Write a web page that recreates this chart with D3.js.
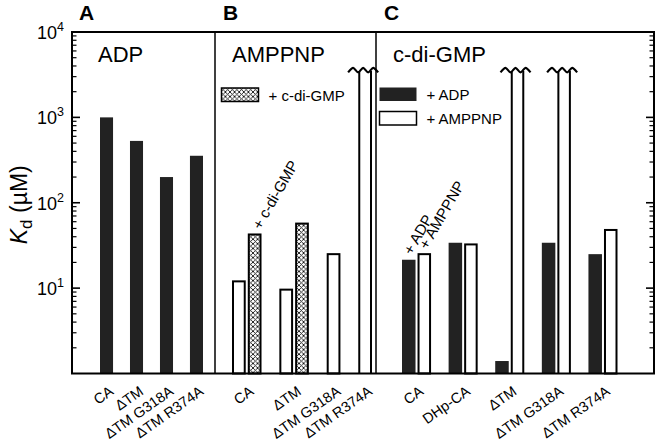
<!DOCTYPE html>
<html>
<head>
<meta charset="utf-8">
<script src="https://cdn.jsdelivr.net/npm/d3@7"></script>
<style>
  html, body { margin: 0; padding: 0; background: #fff; }
  svg { display: block; font-family: "Liberation Sans", Arial, Helvetica, sans-serif; }
</style>
</head>
<body>
<svg id="chart" width="660" height="442"></svg>
<script>
// ---------------- DATA ----------------
const panelLetters = ["A", "B", "C"];
const panelTitles = ["ADP", "AMPPNP", "c-di-GMP"];

// Panel A: ADP binding
const catsA = ["CA", "ΔTM", "ΔTM G318A", "ΔTM R374A"];
const adpKdA = [1000, 530, 200, 355];

// Panel B: AMPPNP binding, without / with c-di-GMP (Infinity = off scale, null = not measured)
const catsB = ["CA", "ΔTM", "ΔTM G318A", "ΔTM R374A"];
const amppnpKdB = [12, 9.6, 25, Infinity];
const amppnpCdgKdB = [42.5, 57, null, null];

// Panel C: c-di-GMP binding, + ADP / + AMPPNP
const catsC = ["CA", "DHp-CA", "ΔTM", "ΔTM G318A", "ΔTM R374A"];
const cdgAdpKdC = [21.5, 34, 1.4, 34, 25];
const cdgAmppnpKdC = [25, 32.5, Infinity, Infinity, 48];

const yTickExps = [1, 2, 3, 4];
const breakValue = 3500; // where off-scale bars are cut

// ---------------- LAYOUT ----------------
const svg = d3.select("#chart");
const plot = { left: 72, right: 654, top: 32, bottom: 373.5 };
const dividers = [215, 376];

const y = d3.scaleLog().domain([1, 1e4]).range([plot.bottom, plot.top]);

// hatch pattern
const defs = svg.append("defs");
const pat = defs.append("pattern").attr("id", "hatch")
  .attr("patternUnits", "userSpaceOnUse").attr("width", 4.6).attr("height", 4.6);
pat.append("rect").attr("width", 4.6).attr("height", 4.6).attr("fill", "#fff");
pat.append("path").attr("d", "M0,0 L4.6,4.6 M4.6,0 L0,4.6 M-1,3.6 L1,5.6 M3.6,-1 L5.6,1")
  .attr("stroke", "#111").attr("stroke-width", 0.9);

const styles = {
  black: { fill: "#222", stroke: "none" },
  open: { fill: "#fff", stroke: "#000" },
  hatch: { fill: "url(#hatch)", stroke: "#000" }
};

function buildSlots(cats, seriesList) {
  const slots = [];
  cats.forEach((c, i) => {
    seriesList.forEach(s => {
      if (s.values[i] !== null) slots.push({ key: c + "|" + s.name, cat: c, series: s, value: s.values[i] });
    });
    if (i < cats.length - 1) slots.push({ key: "gap" + i, gap: true });
  });
  return slots;
}

const panels = [
  { cats: catsA, range: [100, 203], series: [{ name: "adp", values: adpKdA, style: "black" }] },
  { cats: catsB, range: [232, 372], series: [
      { name: "amppnp", values: amppnpKdB, style: "open" },
      { name: "amppnp+cdg", values: amppnpCdgKdB, style: "hatch" }] },
  { cats: catsC, range: [402, 617.5], series: [
      { name: "adp", values: cdgAdpKdC, style: "black" },
      { name: "amppnp", values: cdgAmppnpKdC, style: "open" }] }
];

const g = svg.append("g");

panels.forEach((p, pi) => {
  const slots = buildSlots(p.cats, p.series);
  const x = d3.scaleBand().domain(slots.map(s => s.key)).range(p.range)
    .paddingInner(0.13).paddingOuter(0);
  p.x = x; p.slots = slots;
  const bw = x.bandwidth();
  const bars = slots.filter(s => !s.gap);

  bars.forEach(b => {
    const st = styles[b.series.style];
    const x0 = x(b.key);
    if (b.value === Infinity) {
      const yb = y(breakValue);
      const path = d3.path();
      path.moveTo(x0 + 1, y(1)); path.lineTo(x0 + 1, yb);
      path.moveTo(x0 + bw - 1, y(1)); path.lineTo(x0 + bw - 1, yb);
      g.append("path").attr("d", path.toString()).attr("fill", "none")
        .attr("stroke", "#000").attr("stroke-width", 2);
      const cx = x0 + bw / 2 - 2;
      const pts = d3.range(7).map(k => [cx - 15 + k * 5, yb + (k % 2 === 0 ? 1.5 : -3)]);
      g.append("path").attr("d", d3.line().curve(d3.curveCardinal.tension(0.2))(pts))
        .attr("fill", "none").attr("stroke", "#000").attr("stroke-width", 2.2);
    } else if (st.stroke === "none") {
      g.append("rect").attr("x", x0).attr("y", y(b.value)).attr("width", bw)
        .attr("height", y(1) - y(b.value)).attr("fill", st.fill);
    } else {
      g.append("rect").attr("x", x0 + 1).attr("y", y(b.value)).attr("width", bw - 2)
        .attr("height", y(1) - y(b.value)).attr("fill", st.fill)
        .attr("stroke", st.stroke).attr("stroke-width", 2);
    }
  });

  // category labels
  p.cats.forEach(c => {
    const cb = bars.filter(b => b.cat === c);
    const cx = d3.mean(cb, b => x(b.key) + bw / 2);
    g.append("text").attr("text-anchor", "end")
      .attr("transform", `translate(${cx + 8},${plot.bottom + 20}) rotate(-35)`)
      .attr("font-size", 14.5).text(c);
  });

  // panel letter and title
  const left = pi === 0 ? plot.left : dividers[pi - 1];
  svg.append("text").attr("x", left + (pi === 0 ? 7 : 8)).attr("y", 20)
    .attr("font-size", 21).attr("font-weight", "bold").text(panelLetters[pi]);
  svg.append("text").attr("x", left + (pi === 0 ? 26 : 17)).attr("y", 62)
    .attr("font-size", 22).text(panelTitles[pi]);
});

// annotations above first group bars
const pB = panels[1], pC = panels[2];
function annot(p, key, label, dx) {
  const s = p.slots.find(d => d.key === key);
  const bx = p.x(key) + p.x.bandwidth() / 2;
  g.append("text").attr("transform", `translate(${bx + dx},${y(s.value) - 4}) rotate(-60)`)
    .attr("font-size", 15).text(label);
}
annot(pB, "CA|amppnp+cdg", "+ c-di-GMP", 6);
annot(pC, "CA|adp", "+ ADP", 3);
annot(pC, "CA|amppnp", "+ AMPPNP", 3);

// legends
function legendItem(x0, y0, style, label) {
  const st = styles[style];
  g.append("rect").attr("x", x0).attr("y", y0).attr("width", 37).attr("height", 13.5)
    .attr("fill", st.fill).attr("stroke", st.stroke === "none" ? st.fill : "#000")
    .attr("stroke-width", st.stroke === "none" ? 0 : 1.5);
  g.append("text").attr("x", x0 + 47).attr("y", y0 + 12.5).attr("font-size", 15).text(label);
}
legendItem(221.5, 88, "hatch", "+ c-di-GMP");
legendItem(379.5, 87.5, "black", "+ ADP");
legendItem(379.5, 111.5, "open", "+ AMPPNP");

// axes ticks
const ticks = y.ticks().filter(v => v > 1 && v < 1e4);
const axisG = svg.append("g").attr("stroke", "#000");
ticks.forEach(v => {
  const major = Math.abs(Math.log10(v) - Math.round(Math.log10(v))) < 1e-9;
  const len = major ? 8 : 4.5;
  axisG.append("line").attr("x1", plot.left).attr("x2", plot.left + len)
    .attr("y1", y(v)).attr("y2", y(v)).attr("stroke-width", major ? 1.6 : 1.2);
  axisG.append("line").attr("x1", plot.right).attr("x2", plot.right - len)
    .attr("y1", y(v)).attr("y2", y(v)).attr("stroke-width", major ? 1.6 : 1.2);
});

// tick labels
yTickExps.forEach(e => {
  const t = svg.append("text").attr("x", 64).attr("y", y(Math.pow(10, e)) + 7)
    .attr("text-anchor", "end").attr("font-size", 18);
  t.append("tspan").text("10");
  t.append("tspan").attr("font-size", 12.5).attr("dy", -8).text(String(e));
});

// frame and dividers
svg.append("rect").attr("x", plot.left).attr("y", plot.top)
  .attr("width", plot.right - plot.left).attr("height", plot.bottom - plot.top)
  .attr("fill", "none").attr("stroke", "#000").attr("stroke-width", 2);
dividers.forEach(dx => {
  svg.append("line").attr("x1", dx).attr("x2", dx).attr("y1", plot.top).attr("y2", plot.bottom)
    .attr("stroke", "#000").attr("stroke-width", 1.5);
});

// y label
const yl = svg.append("text").attr("transform", `translate(27,${(plot.top + plot.bottom) / 2 + 2}) rotate(-90)`)
  .attr("text-anchor", "middle").attr("font-size", 23);
yl.append("tspan").attr("font-style", "italic").text("K");
yl.append("tspan").attr("font-size", 17).attr("dy", 5).text("d");
yl.append("tspan").attr("dy", -5).text(" (µM)");
</script>
</body>
</html>
